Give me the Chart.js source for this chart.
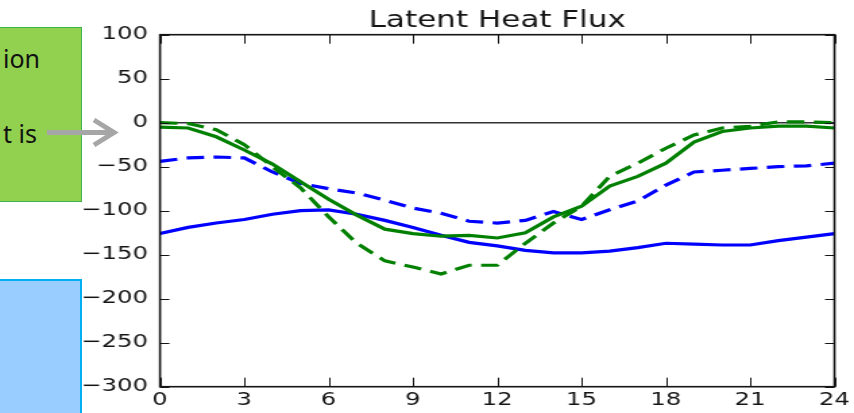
<!DOCTYPE html>
<html>
<head>
<meta charset="utf-8">
<script src="https://cdn.jsdelivr.net/npm/chart.js@4/dist/chart.umd.min.js"></script>
<style>
  html, body { margin: 0; padding: 0; background: #fff; overflow: hidden; }
  #stage { position: relative; width: 854px; height: 413px; overflow: hidden; }
  #wrap { position: absolute; left: 0; top: 0; transform: scaleX(1.3491); transform-origin: 0 0; }
  .box { position: absolute; box-sizing: border-box; }
  .note { position: absolute; font-family: "Noto Sans", sans-serif; font-size: 25px; line-height: 25px; color: #111; white-space: nowrap; text-align: right; }
</style>
</head>
<body>
<div id="stage">
  <div id="wrap"><canvas id="flux" width="633" height="413"></canvas></div>
  <div class="box" style="left:-3px;top:27px;width:85px;height:175px;background:#92d050;border:1.5px solid #3bb44a"></div>
  <div class="note" style="right:814px;top:46px">ion</div>
  <div class="note" style="right:817px;top:121px">t is</div>
  <svg class="box" style="left:40px;top:112px" width="90" height="40">
    <line x1="7" y1="20.5" x2="73" y2="20.5" stroke="#a6a6a6" stroke-width="5"/>
    <polyline points="54,8 74,20.5 54,33" fill="none" stroke="#a6a6a6" stroke-width="5"/>
  </svg>
  <div class="box" style="left:-3px;top:279px;width:85px;height:150px;background:#99ccff;border:2px solid #00b0f0"></div>
</div>
<script>
// hour of day
const hours = [0, 1, 2, 3, 4, 5, 6, 7, 8, 9, 10, 11, 12, 13, 14, 15, 16, 17, 18, 19, 20, 21, 22, 23, 24];

const greenSolid  = [-5, -6, -16, -31, -47, -67, -87, -105, -121, -126, -129, -128, -131, -125, -107, -95, -72, -61, -46, -22, -10, -6, -4, -4, -6];
const greenDashed = [0, -1, -8, -25, -50, -74, -107, -137, -157, -164, -172, -162, -162, -137, -114, -95, -61, -46, -29, -14, -6, -4, 1, 1, 0];
const blueSolid   = [-126, -119, -114, -110, -104, -100, -99, -104, -111, -119, -128, -136, -140, -145, -148, -148, -146, -142, -137, -138, -139, -139, -134, -130, -126];
const blueDashed  = [-44, -40, -39, -40, -56, -69, -75, -80, -88, -97, -103, -112, -114, -111, -101, -110, -99, -89, -71, -56, -54, -52, -50, -49, -46];

const xTicks = [0, 3, 6, 9, 12, 15, 18, 21, 24];
const yTicks = [-300, -250, -200, -150, -100, -50, 0, 50, 100];
const chartTitle = 'Latent Heat Flux';

const ink = '#151515';
const tickFont = { family: 'DejaVu Sans', size: 18 };

function pts(arr) { return arr.map((v, i) => ({ x: hours[i], y: v })); }

function series(data, color, dashed) {
  return {
    data: pts(data),
    borderColor: color,
    borderWidth: 3.2,
    borderDash: dashed ? [13, 7] : [],
    pointRadius: 0,
    tension: 0,
    fill: false
  };
}

// matplotlib-style frame with inward ticks + title over the plot area
const framePlugin = {
  id: 'frame',
  afterDraw(chart) {
    const { ctx, chartArea: a, scales: { x, y } } = chart;
    ctx.save();
    ctx.strokeStyle = ink;
    ctx.lineWidth = 1;
    ctx.beginPath();
    xTicks.forEach(v => {
      const px = Math.round(x.getPixelForValue(v)) + 0.5;
      ctx.moveTo(px, a.bottom); ctx.lineTo(px, a.bottom - 9);
      ctx.moveTo(px, a.top); ctx.lineTo(px, a.top + 9);
    });
    yTicks.forEach(v => {
      const py = Math.round(y.getPixelForValue(v)) + 0.5;
      ctx.moveTo(a.left, py); ctx.lineTo(a.left + 7, py);
      ctx.moveTo(a.right, py); ctx.lineTo(a.right - 7, py);
    });
    ctx.stroke();
    ctx.lineWidth = 1.6;
    ctx.strokeRect(a.left, a.top, a.right - a.left, a.bottom - a.top);

    ctx.fillStyle = ink;
    ctx.font = '23px "DejaVu Sans"';
    ctx.textAlign = 'center';
    ctx.textBaseline = 'alphabetic';
    ctx.fillText(chartTitle, (a.left + a.right) / 2, 26.5);
    ctx.restore();
  }
};

new Chart(document.getElementById('flux'), {
  type: 'line',
  data: {
    datasets: [
      series(greenSolid, '#008000', false),
      series(greenDashed, '#008000', true),
      series(blueSolid, '#0000ff', false),
      series(blueDashed, '#0000ff', true)
    ]
  },
  options: {
    responsive: false,
    animation: false,
    devicePixelRatio: 1,
    layout: { padding: { top: 34.7, right: 9.1, left: 0, bottom: 0 } },
    plugins: { legend: { display: false }, tooltip: { enabled: false }, title: { display: false } },
    scales: {
      x: {
        type: 'linear', min: 0, max: 24,
        afterBuildTicks: s => { s.ticks = xTicks.map(v => ({ value: v })); },
        afterFit: s => { s.height = 26.3; },
        border: { display: false },
        grid: { display: false, drawTicks: false },
        ticks: { color: ink, font: tickFont, padding: 3, maxRotation: 0, autoSkip: false }
      },
      y: {
        min: -300, max: 100,
        afterBuildTicks: s => { s.ticks = yTicks.map(v => ({ value: v })); },
        afterFit: s => { s.width = 118.6; },
        border: { display: false },
        grid: {
          drawTicks: false,
          lineWidth: 1.6,
          color: c => (c.tick && c.tick.value === 0 ? '#333' : 'rgba(0,0,0,0)')
        },
        ticks: {
          color: ink, font: tickFont, padding: 9,
          callback: v => (v < 0 ? '\u2212' + Math.abs(v) : String(v))
        }
      }
    }
  },
  plugins: [framePlugin]
});
</script>
</body>
</html>
